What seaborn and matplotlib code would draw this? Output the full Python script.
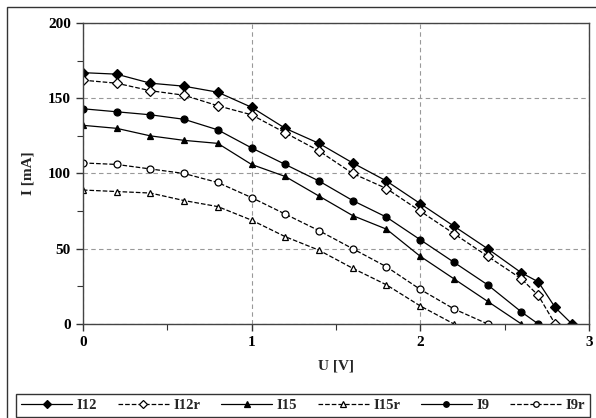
import numpy as np
import matplotlib
matplotlib.use("Agg")
import matplotlib.pyplot as plt
import matplotlib.patches as patches
from matplotlib.ticker import MultipleLocator
import seaborn as sns

u_i12 = [0, 0.2, 0.4, 0.6, 0.8, 1.0, 1.2, 1.4, 1.6, 1.8, 2.0, 2.2, 2.4, 2.6, 2.7, 2.8, 2.9]
i12 = [167, 166, 160, 158, 154, 144, 130, 120, 107, 95, 80, 65, 50, 34, 28, 11, 0]

u_i12r = [0, 0.2, 0.4, 0.6, 0.8, 1.0, 1.2, 1.4, 1.6, 1.8, 2.0, 2.2, 2.4, 2.6, 2.7, 2.8]
i12r = [162, 160, 155, 152, 145, 139, 127, 115, 100, 90, 75, 60, 45, 30, 19, 0]

u_i15 = [0, 0.2, 0.4, 0.6, 0.8, 1.0, 1.2, 1.4, 1.6, 1.8, 2.0, 2.2, 2.4, 2.6]
i15 = [132, 130, 125, 122, 120, 106, 98, 85, 72, 63, 45, 30, 15, 0]

u_i15r = [0, 0.2, 0.4, 0.6, 0.8, 1.0, 1.2, 1.4, 1.6, 1.8, 2.0, 2.2]
i15r = [89, 88, 87, 82, 78, 69, 58, 49, 37, 26, 12, 0]

u_i9 = [0, 0.2, 0.4, 0.6, 0.8, 1.0, 1.2, 1.4, 1.6, 1.8, 2.0, 2.2, 2.4, 2.6, 2.7]
i9 = [143, 141, 139, 136, 129, 117, 106, 95, 82, 71, 56, 41, 26, 8, 0]

u_i9r = [0, 0.2, 0.4, 0.6, 0.8, 1.0, 1.2, 1.4, 1.6, 1.8, 2.0, 2.2, 2.4]
i9r = [107, 106, 103, 100, 94, 84, 73, 62, 50, 38, 23, 10, 0]

series = [
    ("I12", u_i12, i12, "D", "-", "k"),
    ("I12r", u_i12r, i12r, "D", "--", "white"),
    ("I15", u_i15, i15, "^", "-", "k"),
    ("I15r", u_i15r, i15r, "^", "--", "white"),
    ("I9", u_i9, i9, "o", "-", "k"),
    ("I9r", u_i9r, i9r, "o", "--", "white"),
]

sns.set_style("ticks")
plt.rcParams['font.family'] = ['Liberation Serif', 'DejaVu Serif']
plt.rcParams['font.weight'] = 'bold'

fig = plt.figure(figsize=(5.96, 4.18), dpi=100)
ax = fig.add_axes([0.139, 0.225, 0.849, 0.72])

for name, u, i, mk, ls, face in series:
    sns.lineplot(x=u, y=i, ax=ax, color="k", marker=mk, linestyle=ls,
                 markerfacecolor=face, markeredgecolor="k", markeredgewidth=0.9,
                 markersize=5, linewidth=0.9, dashes=False if ls == "-" else (3, 2.5),
                 label=name, legend=False)

ax.set_xlim(0, 3)
ax.set_ylim(0, 200)
ax.xaxis.set_major_locator(MultipleLocator(1))
ax.xaxis.set_minor_locator(MultipleLocator(0.5))
ax.yaxis.set_major_locator(MultipleLocator(50))
ax.yaxis.set_minor_locator(MultipleLocator(25))
ax.tick_params(which='both', direction='out', colors='#333333', labelcolor='k', labelsize=11)
ax.tick_params(which='major', length=5, width=1)
ax.tick_params(which='minor', length=4, width=0.8)
ax.grid(True, which='major', linestyle=(0, (4, 3)), color='#999999', linewidth=0.8)
for sp in ax.spines.values():
    sp.set_visible(True)
    sp.set_color('#444444')
    sp.set_linewidth(1)

ax.set_xlabel("U [V]", fontsize=11, fontweight='bold', labelpad=8)
ax.set_ylabel("I [mA]", fontsize=11, fontweight='bold', labelpad=10)

handles, labels = ax.get_legend_handles_labels()
leg = fig.legend(handles, labels, loc='lower left', ncol=6, mode='expand',
                 bbox_to_anchor=(0.027, 0.002, 0.963, 0.067), borderaxespad=0,
                 fancybox=False, edgecolor='#333333', framealpha=1,
                 fontsize=10.5, handlelength=3.5, handletextpad=0.3,
                 markerscale=0.8, borderpad=0.35)
leg.get_frame().set_linewidth(1)

# outer chart frame
fig.patches.append(patches.Rectangle((7 / 596, -0.1), 1.1, 1.1 - 7 / 418,
                                     transform=fig.transFigure, fill=False,
                                     edgecolor='#333333', linewidth=1))

fig.savefig("out.png", dpi=100)
